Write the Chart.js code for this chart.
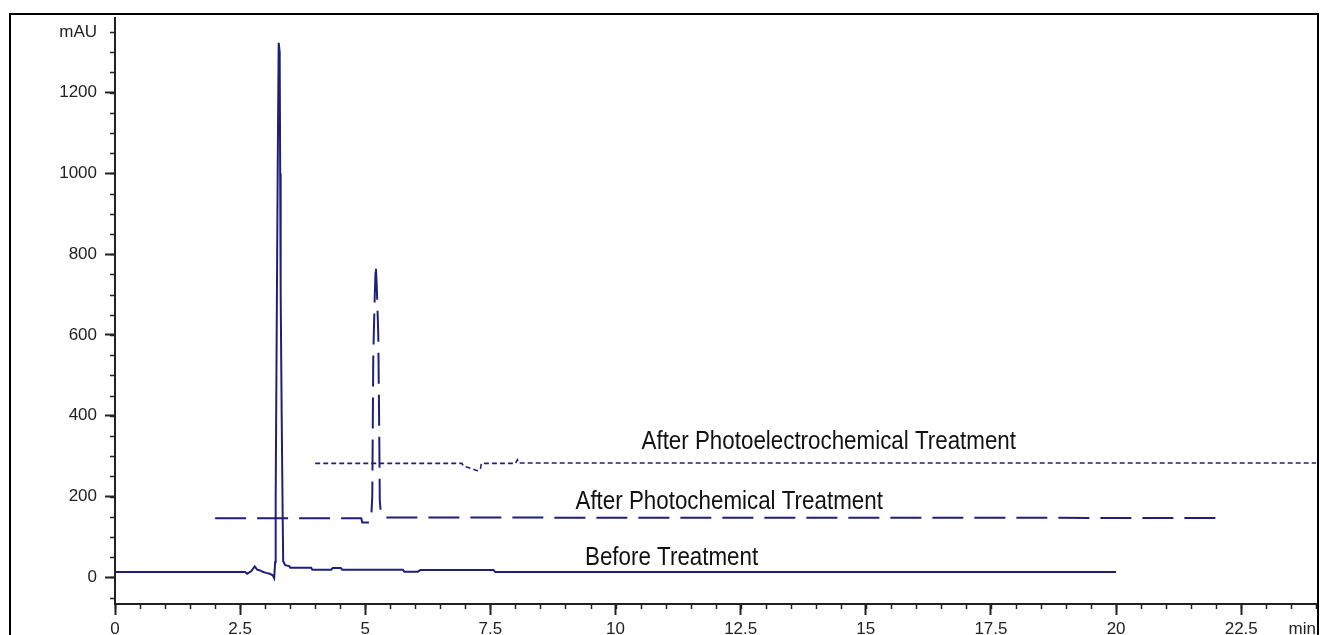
<!DOCTYPE html>
<html lang="en">
<head>
    <meta charset="UTF-8">
    <title>Chromatogram</title>
    <script src="https://cdn.jsdelivr.net/npm/chart.js"></script>
    <style>
        body { margin: 0; background: #fff; }
        #wrap { width: 1320px; height: 635px; }
    </style>
</head>
<body>
    <div id="wrap"><canvas id="myChart" width="1320" height="635"></canvas></div>

    <script>
        // Before treatment (solid)
        const beforeTime = [0, 2.60, 2.64, 2.72, 2.79, 2.84, 2.90, 2.96, 3.02, 3.09, 3.15, 3.18, 3.20, 3.21, 3.23, 3.25, 3.27, 3.29, 3.30, 3.31, 3.33, 3.35, 3.36, 3.40, 3.48, 3.50, 3.92, 3.94, 4.32, 4.35, 4.51, 4.54, 5.75, 5.78, 6.05, 6.10, 7.56, 7.60, 20.0];
        const beforeMAU  = [13, 13, 9, 15, 27, 19, 17, 13, 11, 9, 5, -2, 38, 200, 600, 1000, 1323, 1300, 1000, 700, 400, 150, 40, 30, 28, 24, 24, 19, 19, 23, 23, 19, 19, 14, 14, 18, 18, 13, 13];

        // After photochemical treatment (long dash)
        const photoTime = [2.0, 4.92, 4.94, 5.09, 5.12, 5.14, 5.16, 5.19, 5.21, 5.23, 5.26, 5.28, 5.29, 5.31, 5.40, 5.42, 22.0];
        const photoMAU  = [146, 146, 136, 136, 150, 200, 550, 700, 774, 720, 600, 350, 190, 160, 155, 148, 147];

        // After photoelectrochemical treatment (short dash)
        const pecTime = [4.0, 6.93, 6.96, 7.07, 7.24, 7.30, 7.32, 8.00, 8.04, 8.07, 24.0];
        const pecMAU  = [282, 282, 276, 271, 264, 268, 282, 282, 291, 283, 283];

        const xTicks = [0, 2.5, 5, 7.5, 10, 12.5, 15, 17.5, 20, 22.5];
        const yTicks = [0, 200, 400, 600, 800, 1000, 1200];
        const xUnit = 'min', xUnitAt = 23.72;
        const yUnit = 'mAU', yUnitAt = 1350;

        // curve labels: [text, time, mAU]
        const curveLabels = [
            ['After Photoelectrochemical Treatment', 14.26, 317],
            ['After Photochemical Treatment', 12.27, 170],
            ['Before Treatment', 11.12, 29.5]
        ];

        const ink = '#222';
        const lineColor = '#1f1f78';
        const toPts = (xs, ys) => xs.map((x, i) => ({ x: x, y: ys[i] }));

        const chromePlugin = {
            id: 'chrome',
            beforeDraw(chart) {
                const c = chart.ctx;
                c.save();
                c.fillStyle = '#fff';
                c.fillRect(0, 0, chart.width, chart.height);
                c.restore();
            },
            afterDraw(chart) {
                const c = chart.ctx;
                const xs = chart.scales.x, ys = chart.scales.y;
                const area = chart.chartArea;
                c.save();
                c.strokeStyle = ink;
                c.lineWidth = 1.5;
                // minor ticks
                c.beginPath();
                for (let v = 0; v <= 24.001; v += 0.5) {
                    const px = Math.round(xs.getPixelForValue(v)) + 0.5;
                    c.moveTo(px, area.bottom);
                    c.lineTo(px, area.bottom + 5);
                }
                for (let v = -50; v <= 1380; v += 50) {
                    const py = Math.round(ys.getPixelForValue(v)) + 0.5;
                    c.moveTo(area.left - 5, py);
                    c.lineTo(area.left, py);
                }
                c.stroke();

                // curve labels
                c.fillStyle = '#111';
                c.font = '26px "Liberation Sans", Arial, sans-serif';
                c.textAlign = 'center';
                c.textBaseline = 'alphabetic';
                curveLabels.forEach(([txt, t, v]) => {
                    c.save();
                    c.translate(xs.getPixelForValue(t), ys.getPixelForValue(v));
                    c.scale(0.86, 1);
                    c.fillText(txt, 0, 0);
                    c.restore();
                });

                // outer frame
                c.strokeStyle = '#000';
                c.lineWidth = 2;
                c.beginPath();
                c.moveTo(10, chart.height + 5);
                c.lineTo(10, 14);
                c.lineTo(1318, 14);
                c.lineTo(1318, chart.height + 5);
                c.stroke();
                c.restore();
            }
        };

        const ctx = document.getElementById('myChart').getContext('2d');
        new Chart(ctx, {
            type: 'scatter',
            data: {
                datasets: [
                    { label: 'Before Treatment', data: toPts(beforeTime, beforeMAU), showLine: true,
                      borderColor: lineColor, borderWidth: 2, pointRadius: 0, fill: false },
                    { label: 'After Photochemical Treatment', data: toPts(photoTime, photoMAU), showLine: true,
                      borderColor: lineColor, borderWidth: 2, borderDash: [31, 11], pointRadius: 0, fill: false },
                    { label: 'After Photoelectrochemical Treatment', data: toPts(pecTime, pecMAU), showLine: true,
                      borderColor: lineColor, borderWidth: 1.6, borderDash: [5, 3], pointRadius: 0, fill: false }
                ]
            },
            options: {
                responsive: false,
                animation: false,
                layout: { padding: { left: 0, top: 14, right: 2, bottom: 0 } },
                plugins: { legend: { display: false }, tooltip: { enabled: false } },
                scales: {
                    x: {
                        type: 'linear',
                        min: 0,
                        max: 24,
                        afterBuildTicks: s => { s.ticks = xTicks.concat([xUnitAt]).map(v => ({ value: v })); },
                        afterFit: s => { s.height = 31; },
                        border: { display: true, color: ink, width: 2 },
                        grid: {
                            drawOnChartArea: false,
                            drawTicks: true,
                            tickLength: 11,
                            tickWidth: 2,
                            tickColor: c => (c.tick && c.tick.value === xUnitAt) ? 'rgba(0,0,0,0)' : ink
                        },
                        ticks: {
                            color: ink,
                            padding: 4,
                            maxRotation: 0,
                            autoSkip: false,
                            font: { family: '"Liberation Sans", Arial, sans-serif', size: 17 },
                            callback: v => v === xUnitAt ? xUnit : String(v)
                        }
                    },
                    y: {
                        min: -66,
                        max: 1384,
                        afterBuildTicks: s => { s.ticks = yTicks.concat([yUnitAt]).map(v => ({ value: v })); },
                        afterFit: s => { s.width = 115; },
                        border: { display: true, color: ink, width: 2 },
                        grid: {
                            drawOnChartArea: false,
                            drawTicks: true,
                            tickLength: 10,
                            tickWidth: 2,
                            tickColor: c => (c.tick && c.tick.value === yUnitAt) ? 'rgba(0,0,0,0)' : ink
                        },
                        ticks: {
                            color: ink,
                            padding: 8,
                            autoSkip: false,
                            font: { family: '"Liberation Sans", Arial, sans-serif', size: 17 },
                            callback: v => v === yUnitAt ? yUnit : String(v)
                        }
                    }
                }
            },
            plugins: [chromePlugin]
        });
    </script>
</body>
</html>
